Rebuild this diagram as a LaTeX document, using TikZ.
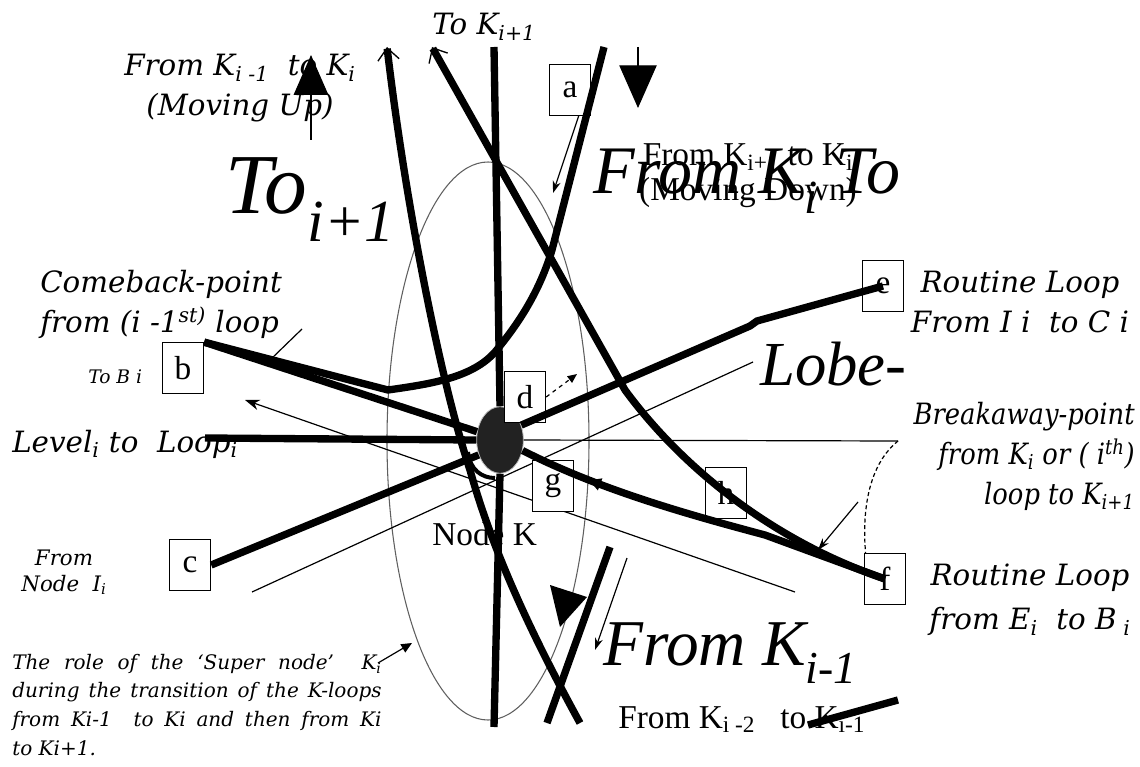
\documentclass[tikz,border=0pt]{standalone}
\usepackage{fontspec}
\setmainfont{Liberation Serif}
\newfontfamily\dvserif{DejaVu Serif}
\newfontfamily\dvnarrow{DejaVu Serif}[FakeStretch=0.88]
\usetikzlibrary{arrows.meta,shapes.geometric,decorations.markings}

\definecolor{knode}{RGB}{34,34,34}
\definecolor{rimgray}{RGB}{95,95,95}

\tikzset{
  thickline/.style={line width=5.5pt},
  thinline/.style={line width=0.9pt},
  lbox/.style={draw, fill=white, line width=0.8pt, minimum width=31pt,
    minimum height=38pt, inner sep=0pt, font=\fontsize{25}{27}\selectfont},
  wit/.style={font=\dvserif\itshape\fontsize{22}{30}\selectfont, inner sep=0pt},
  tms/.style={font=\fontsize{25}{26}\selectfont, inner sep=0pt},
  bigit/.style={font=\itshape\fontsize{49}{53}\selectfont, inner sep=0pt},
  barbstart/.style={arrows={{Straight Barb[line width=1pt,length=9pt,width=16pt]}-}},
  midtips/.style={postaction={decorate, decoration={markings,
    mark=at position 0.22 with {\arrow{Triangle[reversed,length=9pt,width=9pt]}}}}},
}

\begin{document}
\begin{tikzpicture}[x=0.75pt, y=-0.75pt]
\useasboundingbox (0,0) rectangle (1140,767);

%% the lobe round the super node
\draw[rimgray, line width=0.8pt] (488,441) ellipse [x radius=101, y radius=279];
\node[ellipse, fill=knode, draw=white!75!black, line width=0.6pt,
  minimum width=35pt, minimum height=50pt, inner sep=0pt] (K) at (500,440) {};

%% free ends
\coordinate (upL) at (387,47);
\coordinate (upM) at (432,47);
\coordinate (vtop) at (494,47);
\coordinate (vbot) at (494,727);
\coordinate (dnR) at (604,47);
\coordinate (lvl) at (205,438);
\coordinate (cb) at (580,723);
\coordinate (xa) at (610,547);
\coordinate (xb) at (547,723);
\coordinate (kl) at (808,725);
\coordinate (kr) at (898,700);
\coordinate (tbr) at (795,592);
\coordinate (tbl) at (245,400);
\coordinate (tul) at (252,592);
\coordinate (tur) at (753,362);
\coordinate (hr) at (898,441);

%% thin guide lines
\draw[thinline, -{Stealth[length=11pt,width=8pt]}] (tbr) -- (tbl);
\draw[thinline] (tul) -- (tur);
\draw[thinline] (K.east) -- (hr);
\draw[thinline, densely dashed] (hr) .. controls (862,470) and (862,530) .. (867,565)
  .. controls (872,590) and (885,598) .. (897,604);
\draw[thinline] (302,329) -- (270,360);
\draw[thinline] (627,395) -- (677,450);
\draw[thinline, -{Stealth[length=9pt,width=6pt]}] (858,502) -- (818,550);
\draw[thinline, -{Stealth[length=9pt,width=6pt]}] (579,115) -- (553,193);
\draw[thinline, -{Stealth[length=9pt,width=6pt]}] (627,558) -- (595,650);
\draw[thinline, -{Triangle[length=8pt,width=7pt]}] (378,663) -- (412,643);

%% big arrows up and down
\draw[thinline, -{Triangle[length=30pt,width=26pt]}] (311,140) -- (311,55);
\draw[thinline, -{Triangle[length=32pt,width=28pt]}] (638,47) -- (638,108);
\fill (550,585) -- (587,597) -- (560,627) -- cycle;

%% labelled points
\node[lbox] (a) at (570,90) {a};
\node[lbox] (b) at (183,368) {b};
\node[lbox] (c) at (190,565) {c};
\node[lbox] (d) at (525,397) {d};
\node[lbox] (e) at (883,286) {e};
\node[lbox] (f) at (885,579) {f};
\node[lbox] (g) at (553,486) {g};
\node[lbox] (h) at (726,493) {h};
\draw[thinline, dashed, -{Triangle[length=7pt,width=6pt]}] (d.east) -- (577,374);

%% the K-loops
\draw[thickline] (vtop) -- (K.north);
\draw[thickline] (K.south) -- (vbot);
\draw[thickline] (lvl) -- (K.west);
\draw[thickline] (b.north east) -- (K.160);
\draw[thickline] (b.north east) -- (388,390) .. controls (430,384) and (472,378) .. (495,352)
  .. controls (520,322) and (540,290) .. (552,250) -- (dnR);
\draw[thickline] (e.center) -- (757,321) -- (750,326) -- (K.35);
\draw[thickline] (K.215) -- (c.east);
\draw[thickline, barbstart] (upL) .. controls (405,200) and (440,380) .. (470,470)
  .. controls (495,560) and (540,650) .. (cb);
\draw[thickline, barbstart] (upM) -- (625,390) .. controls (680,465) and (770,540) .. (f.center);
\draw[thickline, midtips] (K.-25) .. controls (600,490) and (690,515) .. (765,535) -- (f.center);
\draw[line width=3pt] (468,452) .. controls (470,470) and (482,478) .. (495,478);
\draw[thickline] (xa) -- (xb);
\draw[thickline] (kl) -- (kr);

%% captions
\node[wit, align=center] (upLbl) at (240,88) {From K\textsubscript{i -1}\ \ to K\textsubscript{i}\\(Moving Up)};
\node[wit, anchor=base west] (toK) at (432,35) {To K\textsubscript{i+1}};
\node[tms, align=center] (dnLbl) at (748,176) {From K\textsubscript{i+1}\ to K\textsubscript{i}\\(Moving Down)};
\begin{scope}
  \clip (0,0) rectangle (897,767);
  \node[bigit, anchor=base west, font=\itshape\fontsize{51}{55}\selectfont] (fromKi) at (593,193) {From K\textsubscript{i} To};
\end{scope}
\node[bigit, anchor=base west, font=\itshape\fontsize{64}{68}\selectfont] (toBig) at (225,213) {To\textsubscript{i+1}};
\node[bigit, anchor=base west, font=\itshape\fontsize{47}{50}\selectfont] (lobe) at (760,385) {Lobe-};
\node[bigit, anchor=base west] (fromKim) at (603,665) {From K\textsubscript{i-1}};
\node[wit, anchor=west, align=left] (comeback) at (40,304) {Comeback-point\\from (i -1\textsuperscript{st)} loop};
\node[wit, anchor=base west, font=\dvserif\itshape\fontsize{14}{16}\selectfont] (toB) at (88,383) {To B i};
\node[wit, anchor=base west, font=\dvserif\itshape\fontsize{22}{26}\selectfont] (lvlLbl) at (12,452) {Level\textsubscript{i} to\ \ Loop\textsubscript{i}};
\node[wit, align=center, font=\dvserif\itshape\fontsize{16}{19.5}\selectfont] (fromNode) at (64,572) {From\\Node\ \ I\textsubscript{i}};
\node[tms, anchor=base west] (nodeK) at (432,545) {Node K};
\node[tms, anchor=base west] (fromKim2) at (618,728) {From K\textsubscript{i -2}\ \ \ to K\textsubscript{i-1}};
\node[wit, align=center] (rl1) at (1020,302) {Routine Loop\\From I i\ \ to C i};
\node[wit, align=right, anchor=east, font=\dvnarrow\itshape\fontsize{22}{30}\selectfont] (brk) at (1135,456) {Breakaway-point\\from K\textsubscript{i}\ or\ ( i\textsuperscript{th})\\loop to K\textsubscript{i+1}};
\node[wit, align=center, font=\dvserif\itshape\fontsize{22}{33}\selectfont] (rl2) at (1030,600) {Routine Loop\\from E\textsubscript{i}\ \ to B\textsubscript{ i}};
\node[wit, anchor=north west, text width=277pt, align=justify,
  font=\dvserif\itshape\fontsize{15}{21.4}\selectfont] (role) at (12,654)
  {The role of the ‘Super node’\ \ K\textsubscript{i}\linebreak during the transition of the K-loops\linebreak from Ki-1\ \ to Ki and then from Ki\linebreak to Ki+1.};
\end{tikzpicture}
\end{document}
